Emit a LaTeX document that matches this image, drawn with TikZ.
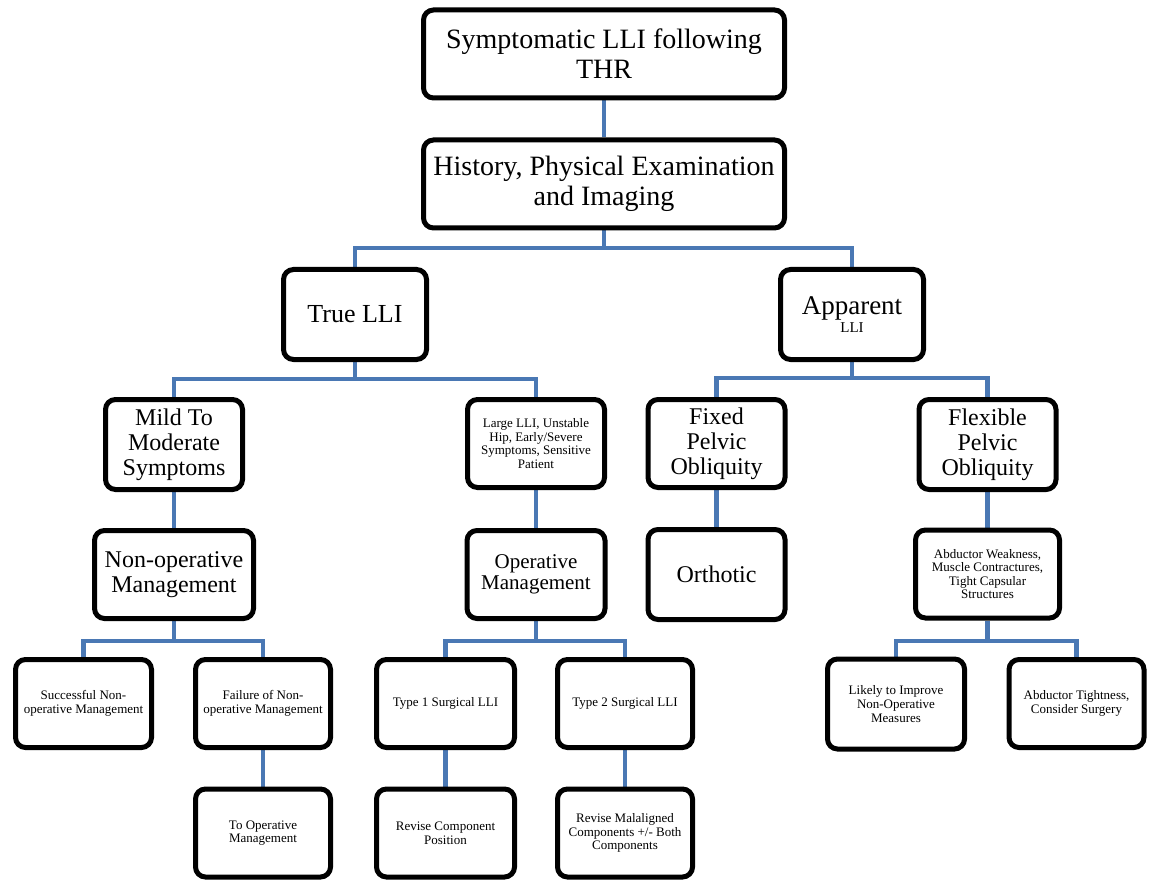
\documentclass[tikz,border=0pt]{standalone}
\usepackage{fontspec}
\setmainfont{Liberation Serif}
\usetikzlibrary{backgrounds}
\definecolor{linkblue}{HTML}{4A78B4}
\tikzset{
  box/.style={draw=black, line width=5pt, rounded corners=10pt, fill=white,
    align=center, inner sep=2pt},
  link/.style={draw=linkblue, line width=4.6pt},
  huge/.style={font=\fontsize{28}{30}\selectfont},
  big/.style={font=\fontsize{26}{27}\selectfont},
  mid/.style={font=\fontsize{24}{25}\selectfont},
  opm/.style={font=\fontsize{21}{21.5}\selectfont},
  small/.style={font=\fontsize{13}{13.6}\selectfont},
  szA/.style={minimum width=361pt, minimum height=88pt},
  szB/.style={minimum width=143pt, minimum height=90pt},
  szC/.style={minimum width=137pt, minimum height=88pt},
}
\begin{document}
\begin{tikzpicture}[x=1pt,y=-1pt]
\useasboundingbox (0,0) rectangle (1153,882);
% level 0-1
\node[box,huge,szA] (top) at (604,54) {Symptomatic LLI following\\THR};
\node[box,huge,szA] (hist) at (604,184) {History, Physical Examination\\and Imaging};
% level 2
\node[box,big,szB] (true) at (355,314.5) {True LLI};
\node[box,szB] (app) at (852,314.5) {{\fontsize{27}{28}\selectfont Apparent}\\[2pt]{\fontsize{15}{15}\selectfont LLI}};
% level 3
\node[box,mid,szC,minimum height=90pt] (mild) at (174,444.5) {Mild To\\Moderate\\Symptoms};
\node[box,small,szC] (large) at (536,443.5) {Large LLI, Unstable\\Hip, Early/Severe\\Symptoms, Sensitive\\Patient};
\node[box,mid,szC] (fixed) at (716.5,443.5) {Fixed\\Pelvic\\Obliquity};
\node[box,mid,szC,minimum height=90pt] (flex) at (987.5,444.5) {Flexible\\Pelvic\\Obliquity};
% level 4
\node[box,mid,szC,minimum width=159pt] (nonop) at (174,574.5) {Non-operative\\Management};
\node[box,opm,szC,minimum width=138pt] (oper) at (536,574.5) {Operative\\Management};
\node[box,mid,szC,minimum height=90pt] (orth) at (716.5,574.5) {Orthotic};
\node[box,small,szC,minimum width=144pt] (abdw) at (987.5,574) {Abductor Weakness,\\Muscle Contractures,\\Tight Capsular\\Structures};
% level 5
\node[box,small,szC,minimum width=136pt] (succ) at (83.5,703.5) {Successful Non-\\operative Management};
\node[box,small,szC,minimum width=135pt] (fail) at (263,703.5) {Failure of Non-\\operative Management};
\node[box,small,szC,minimum width=138pt] (type1) at (445.5,703.5) {Type 1 Surgical LLI};
\node[box,small,szC,minimum width=135pt] (type2) at (625,703.5) {Type 2 Surgical LLI};
\node[box,small,szC,minimum height=90pt] (likely) at (896,704) {Likely to Improve\\Non-Operative\\Measures};
\node[box,small,szC,minimum width=135pt] (tight) at (1076.5,703.5) {Abductor Tightness,\\Consider Surgery};
% level 6
\node[box,small,szC,minimum width=135pt] (toop) at (263,833) {To Operative\\Management};
\node[box,small,szC,minimum width=138pt] (revc) at (445.5,833) {Revise Component\\Position};
\node[box,small,szC,minimum width=135pt] (revm) at (625,833) {Revise Malaligned\\Components +/- Both\\Components};
% connectors
\begin{scope}[on background layer]
\draw[link] (top.south) -- (hist.north);
\coordinate (b1) at (604,248);
\draw[link] (hist.south) -- (b1);
\draw[link] (true.north) |- (b1) -| (app.north);
\coordinate (b2) at (355,379);
\draw[link] (true.south) -- (b2);
\draw[link] (mild.north) |- (b2) -| (large.north);
\coordinate (b3) at (852,378);
\draw[link] (app.south) -- (b3);
\draw[link] (fixed.north) |- (b3) -| (flex.north);
\draw[link] (mild.south) -- (nonop.north);
\draw[link] (large.south) -- (oper.north);
\draw[link] (fixed.south) -- (orth.north);
\draw[link] (flex.south) -- (abdw.north);
\coordinate (b4) at (174,641);
\draw[link] (nonop.south) -- (b4);
\draw[link] (succ.north) |- (b4) -| (fail.north);
\coordinate (b5) at (536,641);
\draw[link] (oper.south) -- (b5);
\draw[link] (type1.north) |- (b5) -| (type2.north);
\coordinate (b6) at (987.5,641);
\draw[link] (abdw.south) -- (b6);
\draw[link] (likely.north) |- (b6) -| (tight.north);
\draw[link] (fail.south) -- (toop.north);
\draw[link] (type1.south) -- (revc.north);
\draw[link] (type2.south) -- (revm.north);
\end{scope}
\end{tikzpicture}
\end{document}
